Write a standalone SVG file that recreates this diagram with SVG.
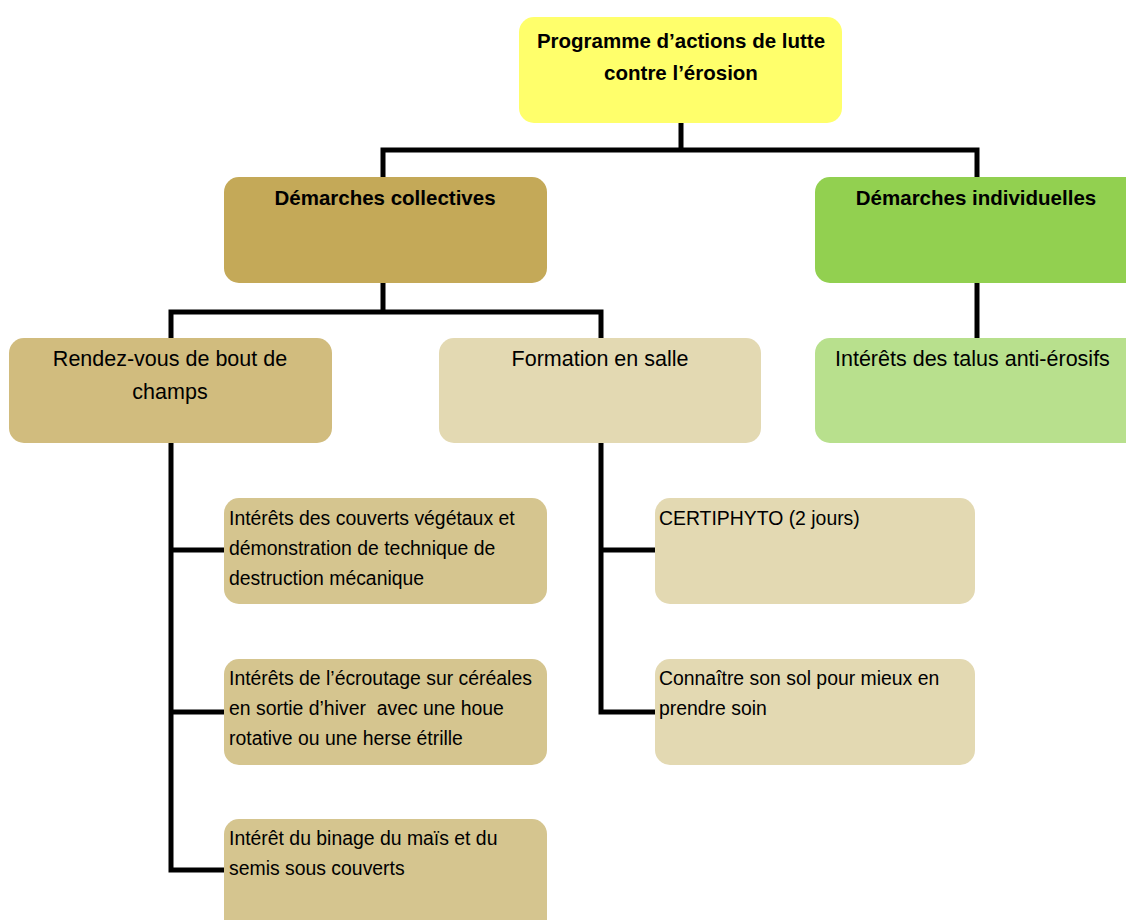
<svg xmlns="http://www.w3.org/2000/svg" width="1126" height="920" viewBox="0 0 1126 920">
<style>
  text { font-family: "Liberation Sans", Arial, sans-serif; fill: #000; }
  .b { font-weight: bold; font-size: 20.5px; }
  .m { font-size: 21.5px; }
  .s { font-size: 19.4px; }
  .c { text-anchor: middle; }
  .conn { fill: none; stroke: #000; stroke-width: 5; stroke-linecap: square; stroke-linejoin: miter; }
</style>
<rect width="1126" height="920" fill="#fff"/>
<g id="connectors">
  <path class="conn" d="M681,123 V150 M383,150 H977 M383,150 V177 M977,150 V177"/>
  <path class="conn" d="M977,283 V338"/>
  <path class="conn" d="M383,283 V312 M171,312 H601 M171,312 V338 M601,312 V338"/>
  <path class="conn" d="M171,443 V870 M171,550 H224 M171,712 H224 M171,870 H224"/>
  <path class="conn" d="M601,443 V712 M601,550 H655 M601,712 H655"/>
</g>
<g id="n-programme">
  <rect x="519" y="17" width="323" height="106" rx="15" fill="#FFFF6B"/>
  <text class="b c" x="681" y="48">Programme d’actions de lutte</text>
  <text class="b c" x="681" y="80">contre l’érosion</text>
</g>
<g id="n-collectives">
  <rect x="224" y="177" width="323" height="106" rx="15" fill="#C4A958"/>
  <text class="b c" x="385" y="205">Démarches collectives</text>
</g>
<g id="n-individuelles">
  <rect x="815" y="177" width="330" height="106" rx="15" fill="#92D050"/>
  <text class="b c" x="976" y="205">Démarches individuelles</text>
</g>
<g id="n-talus">
  <rect x="815" y="338" width="330" height="105" rx="15" fill="#B8E08D"/>
  <text class="m" x="835" y="366">Intérêts des talus anti-érosifs</text>
</g>
<g id="n-rendezvous">
  <rect x="9" y="338" width="323" height="105" rx="15" fill="#D1BC7E"/>
  <text class="m c" x="170" y="366">Rendez-vous de bout de</text>
  <text class="m c" x="170" y="399">champs</text>
</g>
<g id="n-formation">
  <rect x="439" y="338" width="322" height="105" rx="15" fill="#E3D9B2"/>
  <text class="m c" x="600" y="366">Formation en salle</text>
</g>
<g id="n-couverts">
  <rect x="224" y="498" width="323" height="106" rx="15" fill="#D5C58F"/>
  <text class="s" x="229" y="525">Intérêts des couverts végétaux et</text>
  <text class="s" x="229" y="555">démonstration de technique de</text>
  <text class="s" x="229" y="585">destruction mécanique</text>
</g>
<g id="n-ecroutage">
  <rect x="224" y="659" width="323" height="106" rx="15" fill="#D5C58F"/>
  <text class="s" x="229" y="685">Intérêts de l’écroutage sur céréales</text>
  <text class="s" x="229" y="715" xml:space="preserve">en sortie d’hiver  avec une houe</text>
  <text class="s" x="229" y="745">rotative ou une herse étrille</text>
</g>
<g id="n-binage">
  <rect x="224" y="819" width="323" height="115" rx="15" fill="#D5C58F"/>
  <text class="s" x="229" y="845">Intérêt du binage du maïs et du</text>
  <text class="s" x="229" y="875">semis sous couverts</text>
</g>
<g id="n-certiphyto">
  <rect x="655" y="498" width="320" height="106" rx="15" fill="#E3D9B2"/>
  <text class="s" x="659" y="525">CERTIPHYTO (2 jours)</text>
</g>
<g id="n-sol">
  <rect x="655" y="659" width="320" height="106" rx="15" fill="#E3D9B2"/>
  <text class="s" x="659" y="685">Connaître son sol pour mieux en</text>
  <text class="s" x="659" y="715">prendre soin</text>
</g>
</svg>
